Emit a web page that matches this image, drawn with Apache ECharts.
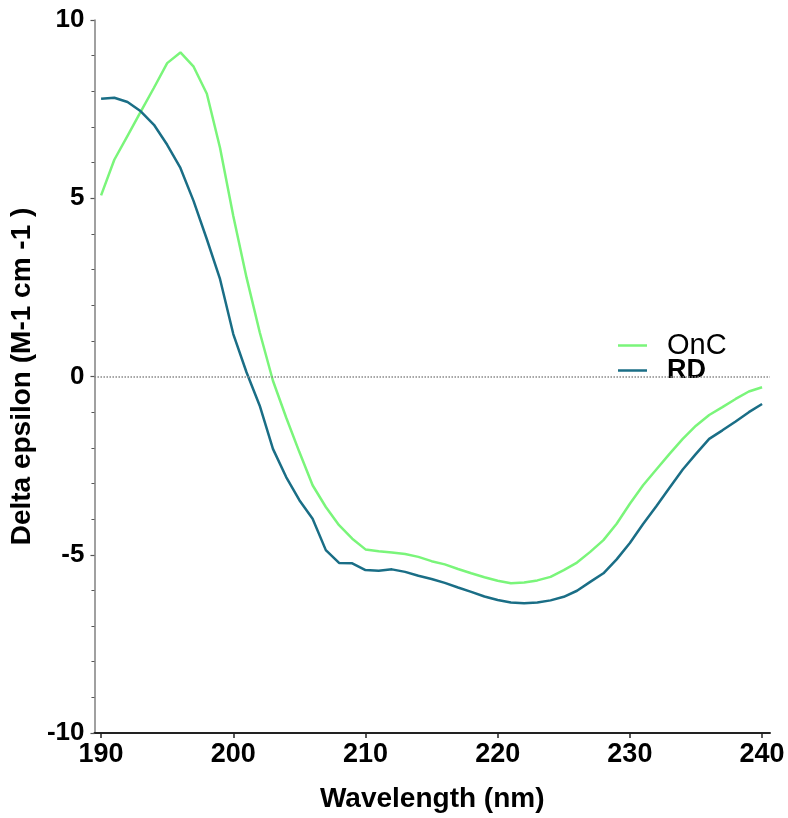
<!DOCTYPE html>
<html>
<head>
<meta charset="utf-8">
<script src="https://cdn.jsdelivr.net/npm/echarts@6/dist/echarts.min.js"></script>
<style>
html,body{margin:0;padding:0;background:#fff;}
#chart{width:788px;height:818px;}
</style>
</head>
<body>
<div id="chart"></div>
<script>
const wavelength = [190,191,192,193,194,195,196,197,198,199,200,201,202,203,204,205,206,207,208,209,210,211,212,213,214,215,216,217,218,219,220,221,222,223,224,225,226,227,228,229,230,231,232,233,234,235,236,237,238,239,240];
const onc = [5.08,6.08,6.75,7.43,8.10,8.79,9.09,8.69,7.93,6.41,4.50,2.78,1.24,-0.12,-1.15,-2.12,-3.05,-3.66,-4.17,-4.55,-4.85,-4.90,-4.94,-4.98,-5.06,-5.18,-5.27,-5.40,-5.52,-5.63,-5.73,-5.80,-5.78,-5.72,-5.62,-5.43,-5.22,-4.92,-4.59,-4.13,-3.57,-3.05,-2.61,-2.17,-1.75,-1.38,-1.08,-0.86,-0.63,-0.42,-0.30];
const rd = [7.79,7.82,7.70,7.44,7.06,6.50,5.85,4.92,3.85,2.73,1.19,0.12,-0.82,-2.03,-2.82,-3.47,-3.99,-4.87,-5.23,-5.24,-5.43,-5.45,-5.41,-5.48,-5.59,-5.68,-5.79,-5.92,-6.04,-6.17,-6.27,-6.34,-6.36,-6.34,-6.28,-6.18,-6.01,-5.76,-5.52,-5.13,-4.67,-4.14,-3.64,-3.12,-2.61,-2.17,-1.75,-1.51,-1.26,-1.00,-0.77];
const xTicks = [190,200,210,220,230,240];
const seriesNames = ['OnC','RD'];

const font = '"Liberation Sans", Arial, sans-serif';
const chart = echarts.init(document.getElementById('chart'));
chart.setOption({
  animation: false,
  backgroundColor: '#fff',
  grid: {left: 90, right: 18, top: 20, bottom: 83, containLabel: false},
  legend: {
    data: seriesNames,
    orient: 'vertical',
    left: 613,
    top: 326,
    icon: 'rect',
    itemWidth: 29,
    itemHeight: 2.5,
    itemGap: -3,
    formatter: function (n) { return n === 'RD' ? '{b|' + n + '}' : '{n|' + n + '}'; },
    textStyle: {
      fontFamily: font,
      padding: [0, 0, 0, 15],
      rich: {
        n: {fontSize: 29, fontWeight: 'normal', color: '#000', fontFamily: font, lineHeight: 24},
        b: {fontSize: 27, fontWeight: 'bold', color: '#000', fontFamily: font, lineHeight: 24}
      }
    }
  },
  xAxis: {
    type: 'value',
    min: 189.5,
    max: 240.6,
    name: 'Wavelength (nm)',
    nameLocation: 'middle',
    nameGap: 52,
    nameTextStyle: {fontFamily: font, fontSize: 28, fontWeight: 'bold', color: '#000'},
    axisLine: {show: true, onZero: false, lineStyle: {color: '#222', width: 2}},
    axisTick: {show: true, customValues: xTicks, length: 5, lineStyle: {color: '#222', width: 1.5}},
    axisLabel: {customValues: xTicks, fontFamily: font, fontSize: 27, fontWeight: 'bold', color: '#000', margin: 8},
    splitLine: {show: false}
  },
  yAxis: {
    type: 'value',
    min: -10,
    max: 10,
    interval: 5,
    name: 'Delta epsilon (M-1 cm -1 )',
    nameLocation: 'middle',
    nameGap: 44,
    nameTextStyle: {fontFamily: font, fontSize: 28, fontWeight: 'bold', color: '#000'},
    axisLine: {show: true, onZero: false, lineStyle: {color: '#808080', width: 1.5}},
    axisTick: {show: true, length: 4, lineStyle: {color: '#555', width: 1.2}},
    minorTick: {show: true, splitNumber: 5, length: 3, lineStyle: {color: '#555', width: 1}},
    axisLabel: {fontFamily: font, fontSize: 26, fontWeight: 'bold', color: '#000', margin: 10},
    splitLine: {show: false}
  },
  series: [
    {
      name: seriesNames[0],
      type: 'line',
      data: wavelength.map((w, i) => [w, onc[i]]),
      symbol: 'none',
      lineStyle: {color: '#7af57a', width: 2.5},
      itemStyle: {color: '#7af57a'},
      z: 3,
      markLine: {
        silent: true,
        symbol: ['none', 'none'],
        label: {show: false},
        lineStyle: {color: '#888', type: 'dotted', width: 1.5},
        data: [{yAxis: 0}]
      }
    },
    {
      name: seriesNames[1],
      type: 'line',
      data: wavelength.map((w, i) => [w, rd[i]]),
      symbol: 'none',
      lineStyle: {color: '#1a6e86', width: 2.5},
      itemStyle: {color: '#1a6e86'},
      z: 4
    }
  ]
});
</script>
</body>
</html>
